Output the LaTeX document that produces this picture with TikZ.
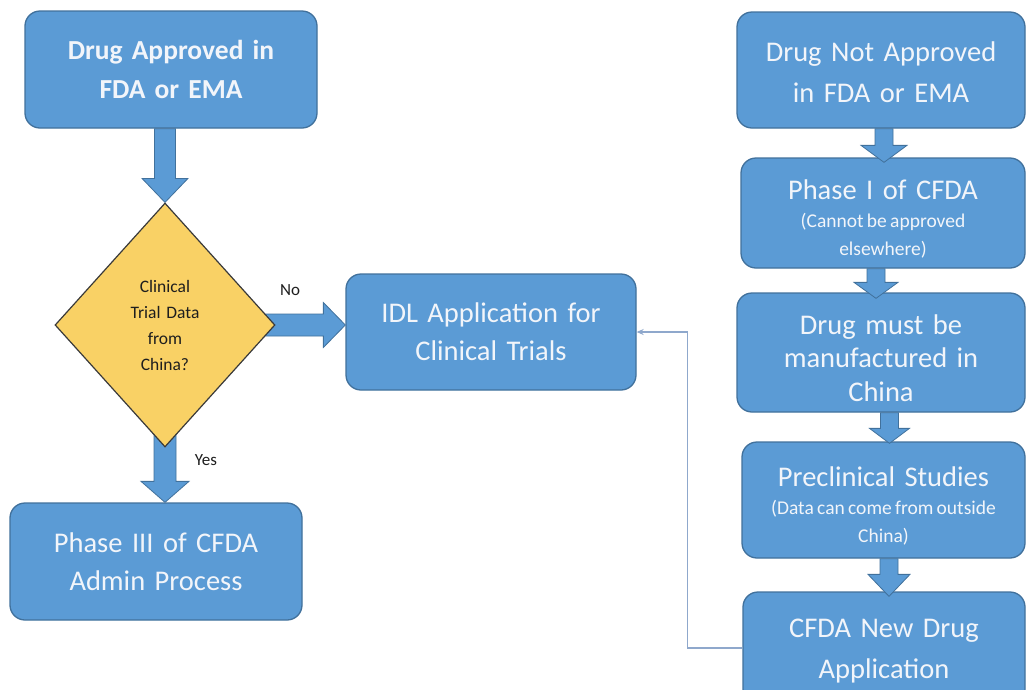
\documentclass[tikz,border=0pt]{standalone}
\usepackage{fontspec}
\setmainfont{Carlito}
\usetikzlibrary{shapes.geometric,calc,arrows.meta}
\pgfdeclarelayer{bg}
\pgfsetlayers{bg,main}

\definecolor{boxfill}{HTML}{5B9BD5}
\definecolor{boxline}{HTML}{41719C}
\definecolor{dfill}{HTML}{F9D165}
\definecolor{dline}{HTML}{3A3A3A}
\definecolor{boxtext}{HTML}{F2F5FA}
\definecolor{connc}{HTML}{8FA8CC}
\definecolor{lbl}{HTML}{1E1E1E}

\newcommand{\mainsz}{\fontsize{28.5}{38}\selectfont}
\newcommand{\subsz}{\fontsize{19.5}{28}\selectfont\spaceskip=0.17em\relax}
\newcommand{\pushdown}{\rule{0pt}{31pt}}

% vertical block arrow: #1 start, #2 tip, #3 shaft half width, #4 head half width, #5 head length
\newcommand{\vblk}[5]{%
  \filldraw[blkarrow] let \p1=(#1), \p2=(#2) in
    (\x2-#3pt,\y1) -- (\x2+#3pt,\y1) -- (\x2+#3pt,\y2+#5pt) -- (\x2+#4pt,\y2+#5pt)
    -- (\x2,\y2) -- (\x2-#4pt,\y2+#5pt) -- (\x2-#3pt,\y2+#5pt) -- cycle;}
% horizontal block arrow (pointing right)
\newcommand{\hblk}[5]{%
  \filldraw[blkarrow] let \p1=(#1), \p2=(#2) in
    (\x1,\y2+#3pt) -- (\x2-#5pt,\y2+#3pt) -- (\x2-#5pt,\y2+#4pt) -- (\x2,\y2)
    -- (\x2-#5pt,\y2-#4pt) -- (\x2-#5pt,\y2-#3pt) -- (\x1,\y2-#3pt) -- cycle;}

\tikzset{
  procbox/.style={draw=boxline, line width=1.3pt, fill=boxfill, rounded corners=15pt,
    text=boxtext, align=center, inner sep=0pt, font=\mainsz},
  decbox/.style={diamond, draw=dline, line width=1.2pt, fill=dfill, text=lbl,
    align=center, inner sep=0pt, minimum width=220pt, minimum height=244pt,
    text width=100pt, font=\fontsize{17.5}{26}\selectfont},
  blkarrow/.style={fill=boxfill, draw=boxline, line width=0.8pt, line join=miter},
  conn/.style={draw=connc, line width=1.6pt},
  yesno/.style={text=lbl, font=\fontsize{17}{20}\selectfont, inner sep=0pt},
}

\begin{document}
\begin{tikzpicture}[x=1pt,y=-1pt]
\useasboundingbox (0,0) rectangle (1026,689);
\begin{pgfonlayer}{bg}
  \fill[white] (0,0) rectangle (1026,689);
\end{pgfonlayer}

% left side
\node[procbox, minimum width=292pt, minimum height=117pt, text width=280pt,
  font=\bfseries\fontsize{27.5}{39}\selectfont] (A) at (171,69.5)
  {Drug Approved in\\FDA or EMA};
\node[decbox] (dec) at (165,325) {Clinical\\Trial Data\\from\\China?};
\node[procbox, minimum width=290pt, minimum height=116pt, text width=280pt] (IDL) at (491,332)
  {IDL Application for\\Clinical Trials};
\node[procbox, minimum width=292pt, minimum height=117pt, text width=280pt] (P3) at (156,561.5)
  {Phase III of CFDA\\Admin Process};

% right column
\node[procbox, minimum width=288pt, minimum height=116pt, text width=278pt,
  font=\fontsize{28.5}{41}\selectfont] (B) at (881,70)
  {\rule{0pt}{25pt}Drug Not Approved\\in FDA or EMA};
\node[procbox, minimum width=284pt, minimum height=110pt, text width=274pt] (C) at (883,213)
  {\pushdown Phase I of CFDA\\{\subsz \mbox{(Cannot be approved}\\\mbox{elsewhere)}\par}};
\node[procbox, minimum width=288pt, minimum height=119pt, text width=278pt,
  font=\fontsize{28.5}{33.5}\selectfont] (D) at (881,352.5)
  {\pushdown Drug must be\\manufactured in\\China};
\node[procbox, minimum width=283pt, minimum height=116pt, text width=276pt] (E) at (883.5,500)
  {\pushdown Preclinical Studies\\{\subsz \mbox{(Data can come from outside}\\\mbox{China)}\par}};
\node[procbox, minimum width=282pt, minimum height=112pt, text width=272pt,
  font=\fontsize{28.5}{41}\selectfont] (F) at (884,648)
  {\rule{0pt}{25pt}CFDA New Drug\\Application};

% block arrows into / out of the decision (behind the diamond)
\begin{pgfonlayer}{bg}
  \vblk{A.south}{dec.north}{10.5}{23}{24}
  \vblk{$(dec.south)+(0,-20)$}{dec.south |- P3.north}{11}{24}{21}
  \hblk{$(dec.east)+(-20,0)$}{dec.east -| IDL.west}{11}{22.5}{22}
\end{pgfonlayer}

% block arrows in the right column
\vblk{B.south}{$(C.north)+(1,5)$}{9}{23}{17}
\vblk{C.south}{$(D.north)+(-5,6)$}{9}{22}{16}
\vblk{D.south}{$(E.north)+(6,2)$}{9}{20}{15}
\vblk{E.south}{$(F.north)+(5,5)$}{9}{21}{22}

% labels
\node[yesno] (no) at (290,290) {No};
\node[yesno] (yes) at (206,460) {Yes};

% thin connector back to IDL
\draw[conn, -{Stealth[length=7pt,width=6pt]}] (F.west) -| ($(IDL.east)+(51,0)$) -- (IDL.east);
\end{tikzpicture}
\end{document}
